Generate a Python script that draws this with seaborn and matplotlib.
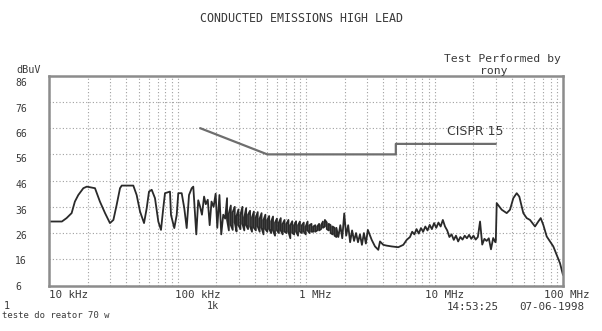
import matplotlib
matplotlib.use("Agg")
import matplotlib.pyplot as plt
import pandas as pd
import seaborn as sns

# ---------------- data ----------------
# low-frequency region, 10 kHz .. 137 kHz
freq_lf_khz = [10.0, 12.6, 13.7, 15.0, 15.9, 16.9, 18.5, 19.7, 22.8, 24.9,
               27.3, 29.8, 31.7, 33.6, 35.7, 36.8, 45.3, 48.1, 51.1, 54.9,
               57.6, 60.0, 63.0, 66.8, 70.9, 74.4, 77.5, 79.9, 87.4, 89.0,
               94.4, 98.6, 101.4, 107.8, 112.9, 117.9, 122.9, 129.0, 132.7, 136.8]
level_lf = [30.4, 30.4, 31.7, 33.6, 38.0, 40.5, 43.1, 43.7, 43.1, 38.0,
            33.6, 29.8, 31.0, 36.7, 43.1, 44.1, 44.1, 40.5, 34.2, 29.8,
            35.5, 41.8, 42.5, 39.3, 30.4, 27.2, 35.5, 41.2, 41.8, 32.9,
            27.9, 32.9, 41.2, 41.2, 35.5, 27.9, 40.5, 43.1, 43.7, 33.0]

# separate tall harmonics, 140 kHz .. 235 kHz
freq_spk_khz = [140, 145, 150, 155, 161, 166, 172, 178, 184, 191,
                198, 204, 212, 219, 227, 235]
level_spk = [25.5, 38.5, 36.0, 33.0, 39.9, 37.0, 38.7, 29.0, 38.0, 36.0,
             41.0, 28.0, 40.5, 25.5, 33.0, 31.5]

# dense harmonic band, 243 kHz .. 1.7 MHz (peak and valley at each line)
freq_band_khz = [243, 251, 260, 269, 279, 288, 298, 309, 320, 331,
                 342, 354, 367, 380, 393, 407, 421, 436, 451, 467,
                 483, 500, 517, 536, 554, 574, 594, 615, 636, 658,
                 681, 705, 730, 755, 782, 809, 837, 867, 897, 929,
                 961, 995, 1029, 1065, 1103, 1141, 1181, 1223, 1265, 1310,
                 1355, 1403, 1452, 1503, 1555, 1610, 1666, 1724]
band_peak = [39.3, 33.5, 36.5, 34.0, 36.0, 32.5, 35.0, 33.0, 36.0, 32.0,
             35.5, 33.0, 34.5, 32.0, 34.2, 32.0, 34.0, 31.5, 33.6, 31.0,
             33.0, 31.0, 32.5, 30.5, 32.3, 30.0, 31.5, 30.0, 31.7, 29.5,
             31.0, 29.5, 31.0, 29.0, 30.5, 29.0, 30.5, 29.0, 30.4, 29.0,
             30.0, 28.5, 30.4, 29.0, 29.5, 28.5, 29.0, 28.5, 29.5, 29.0,
             30.4, 31.0, 30.0, 29.5, 29.0, 28.5, 28.0, 28.0]
band_valley = [31.0, 27.0, 29.0, 27.2, 30.0, 26.6, 29.0, 27.5, 29.5, 27.0,
               29.0, 27.5, 28.5, 26.5, 28.0, 27.0, 28.5, 26.5, 28.0, 25.5,
               27.5, 26.5, 27.5, 26.0, 27.0, 25.0, 27.0, 26.0, 27.0, 25.5,
               26.5, 26.0, 26.5, 24.0, 26.0, 25.5, 26.5, 25.0, 26.5, 26.0,
               26.5, 25.5, 27.0, 26.0, 26.5, 26.5, 26.5, 27.0, 27.0, 27.5,
               28.0, 28.5, 27.5, 27.0, 26.0, 25.5, 25.0, 24.5]

# 1.8 MHz .. 6 MHz
freq_mid_khz = [1785, 1849, 1915, 1984, 2055, 2129, 2205, 2284, 2366, 2451,
                2539, 2630, 2724, 2822, 2923, 3028, 3246, 3443, 3652, 3766,
                3995, 4246, 4645, 5227, 5717, 6076]
level_mid = [24.5, 29.0, 24.0, 33.5, 25.0, 29.0, 22.5, 27.0, 23.0, 26.0,
             22.5, 25.5, 21.5, 26.0, 22.0, 27.2, 23.4, 20.9, 19.6, 22.8,
             21.5, 21.2, 20.9, 20.6, 21.5, 23.4]

# 6.4 MHz .. 30 MHz (noisy)
freq_hf_khz = [6447, 6705, 6973, 7252, 7542, 7844, 8158, 8484, 8823, 9176,
               9543, 9925, 10322, 10735, 11164, 11611, 12075, 12558, 13061, 13583,
               14126, 14691, 15279, 15890, 16526, 17187, 17875, 18590, 19333, 20107,
               20911, 21747, 22617, 23522, 24463, 25442, 26459, 27518, 28618, 29763,
               30000]
level_hf = [24.5, 26.5, 25.5, 27.5, 25.8, 27.9, 26.5, 28.5, 27.0, 29.1,
            27.5, 29.8, 28.0, 30.0, 28.5, 31.0, 28.5, 27.0, 24.5, 25.5,
            23.4, 25.0, 22.8, 24.5, 23.5, 25.0, 24.0, 25.3, 23.8, 25.0,
            23.5, 24.5, 30.4, 21.6, 23.8, 23.0, 24.0, 19.8, 24.1, 22.5,
            23.0]

# 30 MHz .. 100 MHz
freq_vhf_khz = [30490, 33340, 36470, 38690, 41050, 43620, 45700, 49110, 52190, 55370,
                60550, 64240, 67070, 70260, 74680, 79210, 84060, 89330, 94770, 97700,
                100000]
level_vhf = [37.4, 34.9, 33.6, 34.9, 39.3, 41.2, 39.9, 33.6, 31.7, 31.0,
             28.5, 30.4, 31.7, 29.1, 24.7, 22.8, 20.9, 17.7, 14.5, 12.0,
             10.0]

# CISPR 15 limit
limit_khz = [150, 500, 5000, 5000, 30000]
limit_dbuv = [66, 56, 56, 60, 60]

y_ticks = [6, 16, 26, 36, 46, 56, 66, 76, 86]
y_tick_labels = ["6", "16", "26", "36", "46", "56", "66", "76", "86"]
x_tick_labels = ["10 kHz", "100 kHz", "1 MHz", "10 MHz", "100 MHz"]
grid_khz = [m * 10 ** e for e in range(1, 5) for m in range(1, 10)] + [100000]

# peak/valley pairs of the dense band, drawn as vertical strokes
band_f, band_l = [], []
for i, (f, hi, lo) in enumerate(zip(freq_band_khz, band_peak, band_valley)):
    pair = (hi, lo) if i % 2 == 0 else (lo, hi)
    band_f += [f, f]
    band_l += list(pair)

trace = pd.DataFrame({
    "freq": freq_lf_khz + freq_spk_khz + band_f + freq_mid_khz + freq_hf_khz + freq_vhf_khz,
    "level": level_lf + level_spk + band_l + level_mid + level_hf + level_vhf,
})
limit = pd.DataFrame({"freq": limit_khz, "level": limit_dbuv})

# ---------------- figure ----------------
sns.set_theme(style="white")
plt.rcParams["font.family"] = ["DejaVu Sans Mono", "DejaVu Sans"]

W, H = 602, 331
fig = plt.figure(figsize=(W / 100, H / 100), dpi=100)
fig.patch.set_facecolor("white")
ax = fig.add_axes([49 / W, 1 - 285.5 / H, (563 - 49) / W, (285.5 - 75.7) / H])
ax.set_facecolor("white")

ax.set_xscale("log")
ax.set_xlim(10, 100000)
ax.set_ylim(6, 86)

ax.set_xticks(grid_khz)
ax.set_yticks(y_ticks)
ax.xaxis.set_minor_locator(matplotlib.ticker.NullLocator())
ax.tick_params(length=0, labelbottom=False, labelleft=False)
ax.grid(True, which="major", linestyle=(0, (1, 2)), color="#a0a0a0", linewidth=0.8)
ax.set_axisbelow(True)
for s in ax.spines.values():
    s.set_color("#8c8c8c")
    s.set_linewidth(1.8)

sns.lineplot(data=limit, x="freq", y="level", sort=False, estimator=None,
             color="#6e6e6e", linewidth=1.6, ax=ax)
sns.lineplot(data=trace, x="freq", y="level", sort=False, estimator=None,
             color="#2a2a2a", linewidth=1.3, ax=ax)
ax.set_xlabel("")
ax.set_ylabel("")

txt = dict(color="#3a3a3a")

# y tick labels (slightly below their grid lines, as in the plotter output)
for i, lab in enumerate(reversed(y_tick_labels)):
    ypx = 83 + i * 25.5
    fig.text(15 / W, 1 - ypx / H, lab, ha="left", va="center", fontsize=7, **txt)

# x tick labels
x_lab_px = [49, 175, 299, 425, 544]
for xp, lab in zip(x_lab_px, x_tick_labels):
    fig.text(xp / W, 1 - 295 / H, lab, ha="left", va="center", fontsize=7.8, **txt)

fig.text(302 / W, 1 - 18 / H, "CONDUCTED EMISSIONS HIGH LEAD", ha="center",
         va="center", fontsize=8.4, **txt)
fig.text(502 / W, 1 - 59 / H, "Test Performed by", ha="center", va="center",
         fontsize=8.2, **txt)
fig.text(494 / W, 1 - 71 / H, "rony", ha="center", va="center", fontsize=8.2, **txt)
fig.text(16 / W, 1 - 70 / H, "dBuV", ha="left", va="center", fontsize=7.3, **txt)
ax.text(12500, 64.6, "CISPR 15", ha="left", va="center", fontsize=9,
        family=["DejaVu Sans"], color="#3a3a3a")

fig.text(4 / W, 1 - 306 / H, "1", ha="left", va="center", fontsize=7.3, **txt)
fig.text(213 / W, 1 - 306 / H, "1k", ha="center", va="center", fontsize=7.3, **txt)
fig.text(447 / W, 1 - 306.5 / H, "14:53:25", ha="left", va="center", fontsize=7.8, **txt)
fig.text(519 / W, 1 - 306.5 / H, "07-06-1998", ha="left", va="center", fontsize=7.8, **txt)
fig.text(2 / W, 1 - 316 / H, "teste do reator 70 w", ha="left", va="center",
         fontsize=6.4, **txt)

fig.savefig("out.png", dpi=100, facecolor="white")
